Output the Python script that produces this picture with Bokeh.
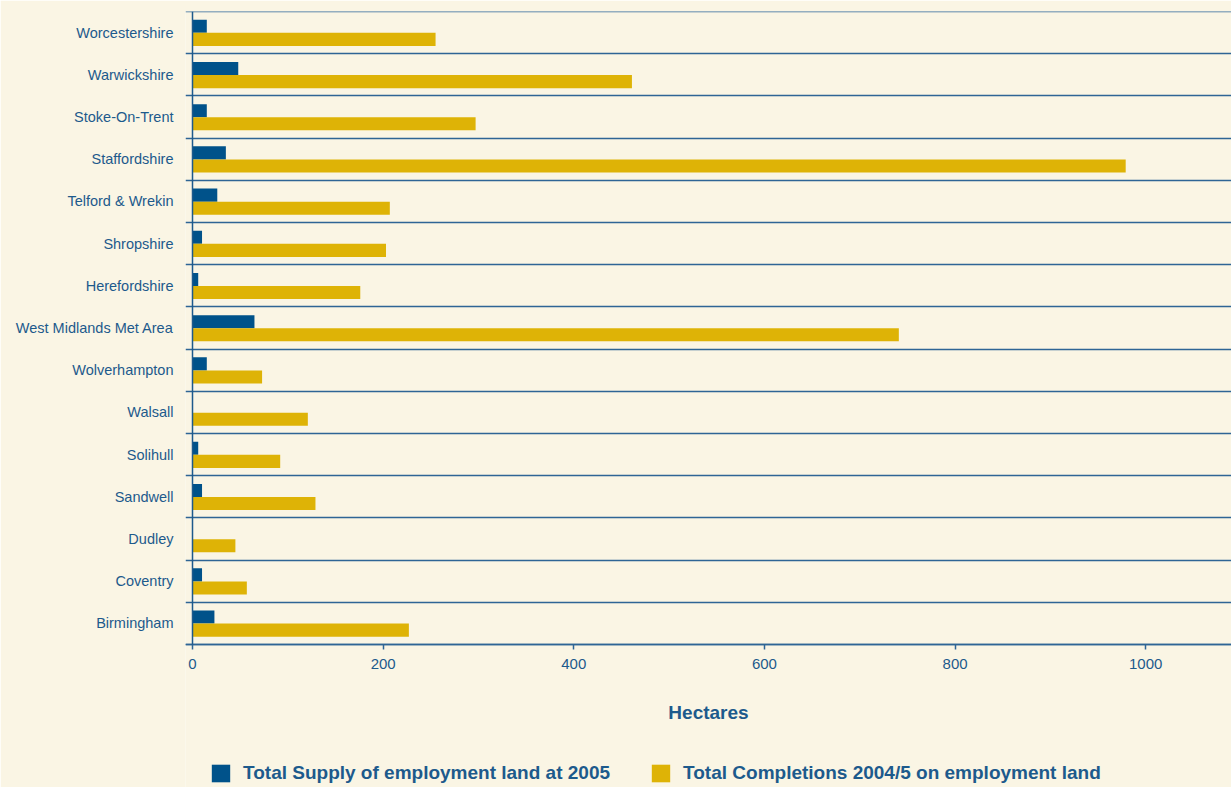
from bokeh.plotting import figure
from bokeh.models import Range1d, FixedTicker, Legend, LegendItem, ColumnDataSource, LinearAxis
from bokeh.embed import file_html
from bokeh.resources import INLINE

# Data (bottom to top as drawn)
areas = ["Birmingham", "Coventry", "Dudley", "Sandwell", "Solihull", "Walsall",
         "Wolverhampton", "West Midlands Met Area", "Herefordshire", "Shropshire",
         "Telford & Wrekin", "Staffordshire", "Stoke-On-Trent", "Warwickshire",
         "Worcestershire"]
supply_2005 = [23, 10, 0, 10, 6, 0, 15, 65, 6, 10, 26, 35, 15, 48, 15]
completions_2004_5 = [227, 57, 45, 129, 92, 121, 73, 741, 176, 203, 207, 979, 297, 461, 255]
x_ticks = [0, 200, 400, 600, 800, 1000]
series_names = ["Total Supply of employment land at 2005",
                "Total Completions 2004/5 on employment land"]

BG = "#FAF5E4"
TXT = "#1D5A8C"
LINE = "#2E6595"
BLUE = "#00528A"
GOLD = "#DEB306"
FONT = "Liberation Sans"

n = len(areas)
centers = [i + 0.5 for i in range(n)]
bounds = [float(i) for i in range(n + 1)]

# layout geometry
W, H, TOP = 1231, 787, 11
LEFT = 185          # frame starts where the row lines start
AXIS_X = 192        # pixel of value 0
X_MAX = 1090
x_unit_px = (W - AXIS_X) / X_MAX
x_start = -(AXIS_X - LEFT) / x_unit_px
bars_px = 633
unit_px = bars_px / n
below_px = H - TOP - bars_px
y_start = -below_px / unit_px
y_end = n + 0.05 / unit_px

src = ColumnDataSource(dict(
    name=areas,
    supply=supply_2005,
    comp=completions_2004_5,
    y_sup=[c + 0.15 for c in centers],
    y_comp=[c - 0.16 for c in centers],
))

p = figure(width=W, height=H, frame_width=W - LEFT, frame_height=H - TOP,
           output_backend="svg", toolbar_location=None,
           x_range=Range1d(x_start, X_MAX), y_range=Range1d(y_start, y_end),
           min_border_left=LEFT, min_border_right=0, min_border_top=TOP,
           min_border_bottom=0)
p.background_fill_color = BG
p.border_fill_color = BG
p.outline_line_color = None

r1 = p.hbar(y="y_sup", left=0, right="supply", height=0.31, source=src,
            fill_color=BLUE, line_color=None)
r2 = p.hbar(y="y_comp", left=0, right="comp", height=0.31, source=src,
            fill_color=GOLD, line_color=None)

# grid at category boundaries
p.xgrid.grid_line_color = None
p.ygrid.ticker = FixedTicker(ticks=bounds)
p.ygrid.grid_line_color = LINE
p.ygrid.grid_line_width = 1.5

# y axis: category labels only
ya = p.yaxis[0]
ya.ticker = FixedTicker(ticks=centers)
ya.major_label_overrides = {c: a for c, a in zip(centers, areas)}
ya.axis_line_color = None
ya.major_tick_out = 0
ya.major_tick_in = 0
ya.major_tick_line_color = None
ya.minor_tick_line_color = None
ya.major_label_standoff = 12
ya.major_label_text_font = FONT
ya.major_label_text_font_size = "14.5px"
ya.major_label_text_color = TXT

# vertical axis line at value 0, limited to the rows
y_line = LinearAxis(fixed_location=0, bounds=(0, n), ticker=FixedTicker(ticks=[]),
                    axis_line_color=TXT, axis_line_width=1.5,
                    major_tick_line_color=None, minor_tick_line_color=None,
                    major_label_text_alpha=0)
p.add_layout(y_line, "left")

# x axis, pinned at y = 0
xa = p.xaxis[0]
xa.fixed_location = 0
xa.ticker = FixedTicker(ticks=x_ticks)
xa.axis_line_color = LINE
xa.axis_line_width = 1.5
xa.major_tick_out = 5
xa.major_tick_in = 0
xa.major_tick_line_color = LINE
xa.major_tick_line_width = 1.5
xa.minor_tick_line_color = None
xa.major_label_standoff = 9
xa.major_label_text_font = FONT
xa.major_label_text_font_size = "15px"
xa.major_label_text_color = TXT
xa.axis_label = "Hectares"
xa.axis_label_text_font = FONT
xa.axis_label_text_font_size = "19px"
xa.axis_label_text_font_style = "bold"
xa.axis_label_text_color = TXT
xa.axis_label_standoff = 30

legend = Legend(items=[LegendItem(label=series_names[0], renderers=[r1]),
                       LegendItem(label=series_names[1], renderers=[r2])],
                orientation="horizontal", location=(209 - LEFT, 3))
legend.glyph_width = 23
legend.glyph_height = 22
legend.label_standoff = 11
legend.spacing = 39
legend.padding = 0
legend.margin = 0
legend.border_line_color = None
legend.background_fill_alpha = 0
legend.label_text_font = FONT
legend.label_text_font_size = "19px"
legend.label_text_font_style = "bold"
legend.label_text_color = TXT
p.add_layout(legend, "center")

open("out.html", "w").write(file_html(p, INLINE))
